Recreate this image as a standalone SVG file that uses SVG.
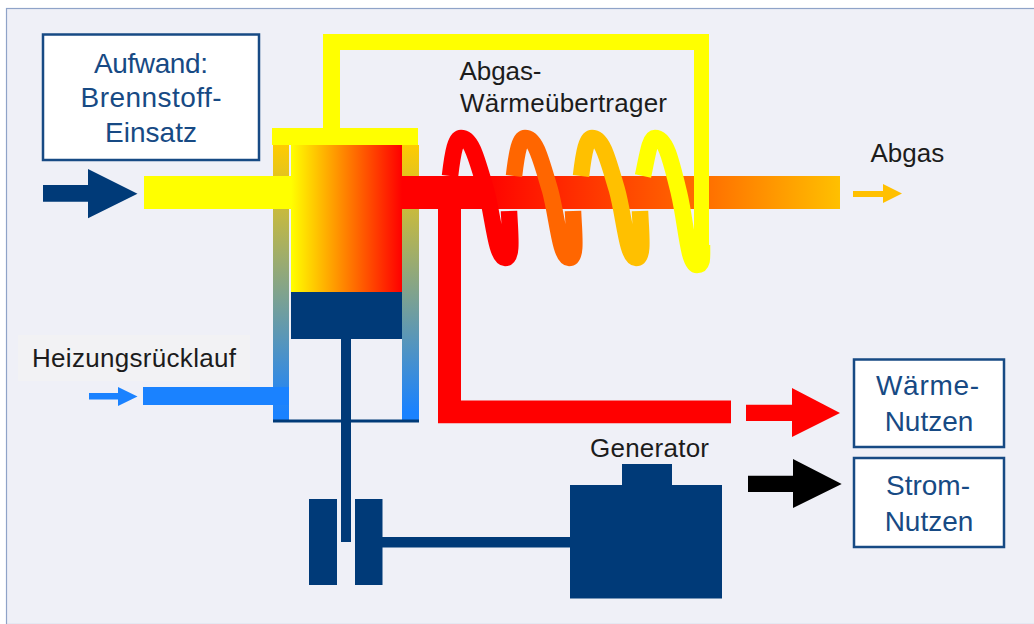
<svg xmlns="http://www.w3.org/2000/svg" width="1034" height="624" viewBox="0 0 1034 624">
<style>
text{font-family:"Liberation Sans",Arial,sans-serif}
.lbl{font-size:26px;fill:#1c1c1c}
.box{font-size:28px;fill:#174a84;text-anchor:middle}
.frame{fill:#fff;stroke:#174a84;stroke-width:2.5}
.navy{fill:#003a78}
.coil{fill:none;stroke-width:16.5;stroke-linejoin:round}
</style>
<defs>
<linearGradient id="hot" x1="0" x2="1" y1="0" y2="0"><stop offset="0" stop-color="#ffff00"/><stop offset="1" stop-color="#ff0000"/></linearGradient>
<linearGradient id="exh" gradientUnits="userSpaceOnUse" x1="402" x2="840" y1="0" y2="0"><stop offset="0" stop-color="#ff0000"/><stop offset=".18" stop-color="#ff0000"/><stop offset=".7" stop-color="#ff7000"/><stop offset="1" stop-color="#ffc000"/></linearGradient>
<linearGradient id="wall" gradientUnits="userSpaceOnUse" x1="0" x2="0" y1="145" y2="412"><stop offset="0" stop-color="#ffcc00"/><stop offset="1" stop-color="#1a82ff"/></linearGradient>
</defs>
<rect x="6.500" y="8.500" width="1030" height="616" fill="#eff0f7" stroke="#8fa3c8" stroke-width="1.2"/>

<g id="engine">
<rect x="273" y="145" width="16" height="275" fill="url(#wall)"/>
<rect x="402" y="145" width="17" height="275" fill="url(#wall)"/>
<rect x="273" y="419.500" width="146" height="3" class="navy"/>
<rect x="272" y="128" width="146" height="17" fill="#ffff00"/>
<rect x="341" y="339" width="10" height="203" class="navy"/>
<rect x="291" y="292" width="111" height="47" class="navy"/>
</g>

<g id="connectors">
<rect x="402" y="176" width="438" height="33" fill="url(#exh)"/>
<rect x="144" y="176" width="147" height="33" fill="#ffff00"/>
<rect x="143" y="387" width="146" height="18" fill="#1a82ff"/>
<path d="M438 209H461V400.500H731V423.300H438Z" fill="#ff0000"/>
<path class="coil" stroke="#ff0000" d="M450 176C453 150 456 138 461 138C472 138 477 160 486 190C493 215 496 258 505 258C513 258 510 235 509 211"/>
<path class="coil" stroke="#ff6600" d="M514 176C517 150 520 138 525 138C536 138 541 160 550 190C557 215 560 258 569 258C577 258 574 235 573 211"/>
<path class="coil" stroke="#ffc000" d="M581 176C584 150 587 138 592 138C603 138 608 160 617 190C624 215 627 258 636 258C644 258 641 235 640 211"/>
<path class="coil" stroke="#ffff00" d="M643 176C648 152 650 138 655 138C666 138 671 160 679 193C686 222 688 265 697 265C703 265 702 258 702 245"/>
<path d="M323 128V34H709V250H694V50H340V128Z" fill="#ffff00"/>
<polygon points="43,185 88,185 88,169 137.500,193.700 88,218.300 88,201.700 43,201.700" class="navy"/>
<polygon points="89,393 118,393 118,387 137.500,396.500 118,406 118,399.500 89,399.500" fill="#1a82ff"/>
<polygon points="853,191 883,191 883,184 902,193.500 883,203 883,197 853,197" fill="#ffc000"/>
<polygon points="746,404.700 792,404.700 792,388 840,413 792,437 792,421 746,421" fill="#ff0000"/>
<polygon points="748,475.700 793,475.700 793,459 841.700,484 793,508 793,492 748,492"/>
</g>

<g id="combustion-chamber"><rect x="291" y="145" width="111" height="147" fill="url(#hot)"/></g>

<g id="flywheel">
<rect x="309" y="499" width="28" height="86" class="navy"/>
<rect x="355" y="499" width="27.500" height="86" class="navy"/>
<rect x="382" y="537" width="190" height="10.500" class="navy"/>
</g>

<g id="generator">
<rect x="570" y="485" width="152" height="113.500" class="navy"/>
<rect x="622" y="464" width="50" height="22" class="navy"/>
<text class="lbl" x="590" y="457" textLength="119">Generator</text>
</g>

<g id="aufwand">
<rect class="frame" x="43" y="34.500" width="216" height="125.500"/>
<text class="box" x="151" y="72.700" textLength="114">Aufwand:</text>
<text class="box" x="151" y="107" textLength="141">Brennstoff-</text>
<text class="box" x="151" y="141.700" textLength="92">Einsatz</text>
</g>

<g id="waerme-nutzen">
<rect class="frame" x="854" y="359.500" width="150" height="87.500"/>
<text class="box" x="927.500" y="395" textLength="103">Wärme-</text>
<text class="box" x="929" y="431">Nutzen</text>
</g>

<g id="strom-nutzen">
<rect class="frame" x="854" y="458" width="150" height="89"/>
<text class="box" x="928" y="495" textLength="84">Strom-</text>
<text class="box" x="929" y="531">Nutzen</text>
</g>

<g id="heizungsruecklauf">
<rect x="18" y="335" width="232" height="46" fill="#f2f2f4"/>
<text class="lbl" x="32" y="367" textLength="204">Heizungsrücklauf</text>
</g>

<g id="abgas"><text class="lbl" x="870.500" y="161.500">Abgas</text></g>

<g id="abgas-waermeuebertrager">
<text class="lbl" x="459.500" y="80" textLength="82">Abgas-</text>
<text class="lbl" x="460" y="112" textLength="207">Wärmeübertrager</text>
</g>
</svg>
